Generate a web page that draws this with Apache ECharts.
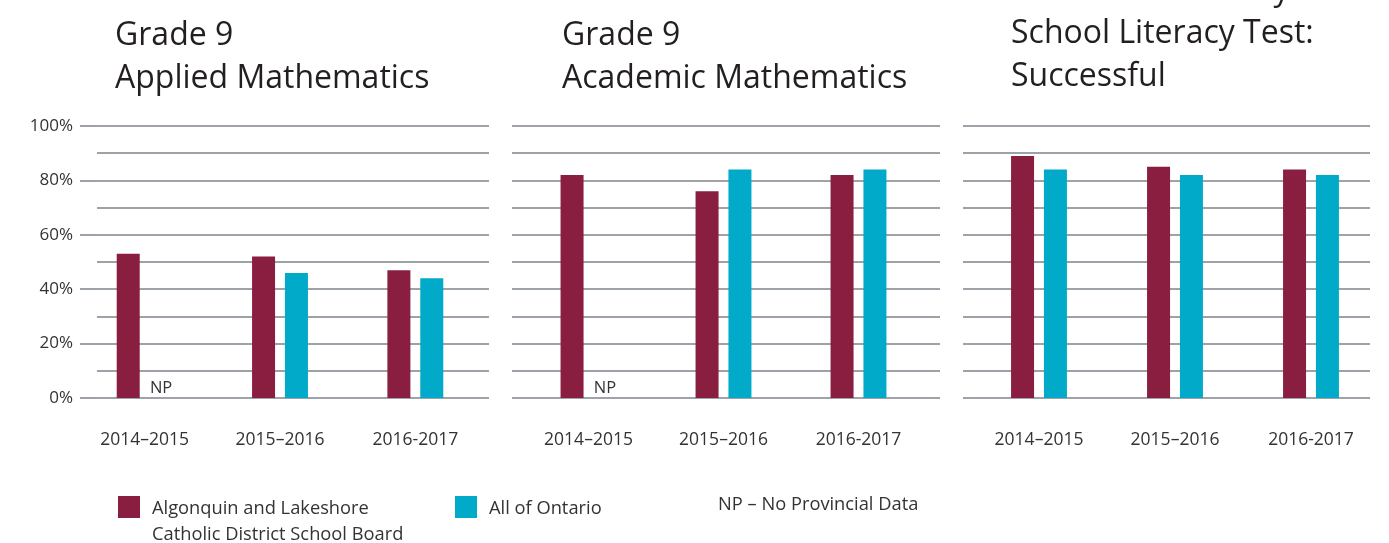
<!DOCTYPE html>
<html>
<head>
<meta charset="utf-8">
<script src="https://cdn.jsdelivr.net/npm/echarts@6/dist/echarts.min.js"></script>
<style>
  html, body { margin: 0; padding: 0; background: #fff; }
  #main { width: 1389px; height: 543px; }
</style>
</head>
<body>
<div id="main"></div>
<script>
// data
const categories = ['2014–2015', '2015–2016', '2016-2017']
const appliedBoard = [53, 52, 47]
const appliedOntario = [null, 46, 44]
const academicBoard = [82, 76, 82]
const academicOntario = [null, 84, 84]
const literacyBoard = [89, 85, 84]
const literacyOntario = [84, 82, 82]

const BOARD = '#8a1e41'
const ONT = '#00aac8'
const LINE = '#7d848c'
const TEXT = '#333'
const FONT = '"Open Sans", sans-serif'

// one entry per small chart: where the gridlines go, where the bars go
const panels = [
	{ title: 'Grade 9\nApplied Mathematics', titleLeft: 115, titleTop: 14, lines: [97, 489], bars: [77, 483], board: appliedBoard, ontario: appliedOntario, labels: true },
	{ title: 'Grade 9\nAcademic Mathematics', titleLeft: 562, titleTop: 14, lines: [512, 940], bars: [521, 926], board: academicBoard, ontario: academicOntario, labels: false },
	{ title: 'Ontario Secondary\nSchool Literacy Test:\nSuccessful', titleLeft: 1011, titleTop: -31, lines: [963, 1370], bars: [971, 1379], board: literacyBoard, ontario: literacyOntario, labels: false }
]

const grids = []
const xAxes = []
const yAxes = []
const series = []
const titles = []

panels.forEach((p, i) => {
	titles.push({
		text: p.title,
		left: p.titleLeft,
		top: p.titleTop,
		padding: 0,
		textStyle: { fontFamily: FONT, fontSize: 32, fontWeight: 'normal', color: '#231f20', lineHeight: 43 }
	})
	// grid for the horizontal lines
	grids.push({ left: p.lines[0], width: p.lines[1] - p.lines[0], top: 126, height: 272 })
	// grid for the bars
	grids.push({ left: p.bars[0], width: p.bars[1] - p.bars[0], top: 126, height: 272 })

	xAxes.push({ gridIndex: 2 * i, type: 'category', data: categories, show: false })
	xAxes.push({
		gridIndex: 2 * i + 1,
		type: 'category',
		data: categories,
		axisLine: { show: false },
		axisTick: { show: false },
		axisLabel: { margin: 33, fontSize: 17.5, color: TEXT, fontFamily: FONT }
	})

	yAxes.push({
		gridIndex: 2 * i,
		type: 'value',
		min: 0,
		max: 100,
		interval: 20,
		axisLine: { show: false },
		axisTick: { show: p.labels, length: 17, lineStyle: { color: LINE, width: 1.5 } },
		axisLabel: { show: p.labels, formatter: '{value}%', margin: 24, fontSize: 17, color: TEXT, fontFamily: FONT },
		splitLine: { show: true, lineStyle: { color: LINE, width: 1.5 } },
		minorTick: { show: false, splitNumber: 2 },
		minorSplitLine: { show: true, lineStyle: { color: LINE, width: 1.5 } }
	})
	yAxes.push({ gridIndex: 2 * i + 1, type: 'value', min: 0, max: 100, show: false })

	series.push({
		name: 'Algonquin and Lakeshore Catholic District School Board',
		type: 'bar',
		xAxisIndex: 2 * i + 1,
		yAxisIndex: 2 * i + 1,
		barWidth: 23,
		barGap: '43%',
		itemStyle: { color: BOARD },
		data: p.board
	})
	series.push({
		name: 'All of Ontario',
		type: 'bar',
		xAxisIndex: 2 * i + 1,
		yAxisIndex: 2 * i + 1,
		barWidth: 23,
		barGap: '43%',
		itemStyle: { color: ONT },
		// no provincial data -> write NP on the baseline
		data: p.ontario.map(v => v === null
			? { value: 0, label: { show: true, formatter: 'NP', position: 'top', distance: 1, fontSize: 16.5, color: TEXT, fontFamily: FONT } }
			: v)
	})
})

const legendText = { fontFamily: FONT, fontSize: 18.3, fill: TEXT }

const option = {
	backgroundColor: '#fff',
	animation: false,
	title: titles,
	grid: grids,
	xAxis: xAxes,
	yAxis: yAxes,
	series: series,
	graphic: [
		{ type: 'rect', left: 118, top: 496, shape: { width: 22, height: 22 }, style: { fill: BOARD } },
		{ type: 'text', left: 152, top: 496, style: Object.assign({ text: 'Algonquin and Lakeshore\nCatholic District School Board', lineHeight: 26 }, legendText) },
		{ type: 'rect', left: 455, top: 496, shape: { width: 22, height: 22 }, style: { fill: ONT } },
		{ type: 'text', left: 489, top: 496, style: Object.assign({ text: 'All of Ontario', lineHeight: 26 }, legendText) },
		{ type: 'text', left: 718, top: 492, style: Object.assign({ text: 'NP – No Provincial Data', lineHeight: 26 }, legendText) }
	]
}

const chartDom = echarts.init(document.getElementById('main'))
chartDom.setOption(option)
</script>
</body>
</html>
